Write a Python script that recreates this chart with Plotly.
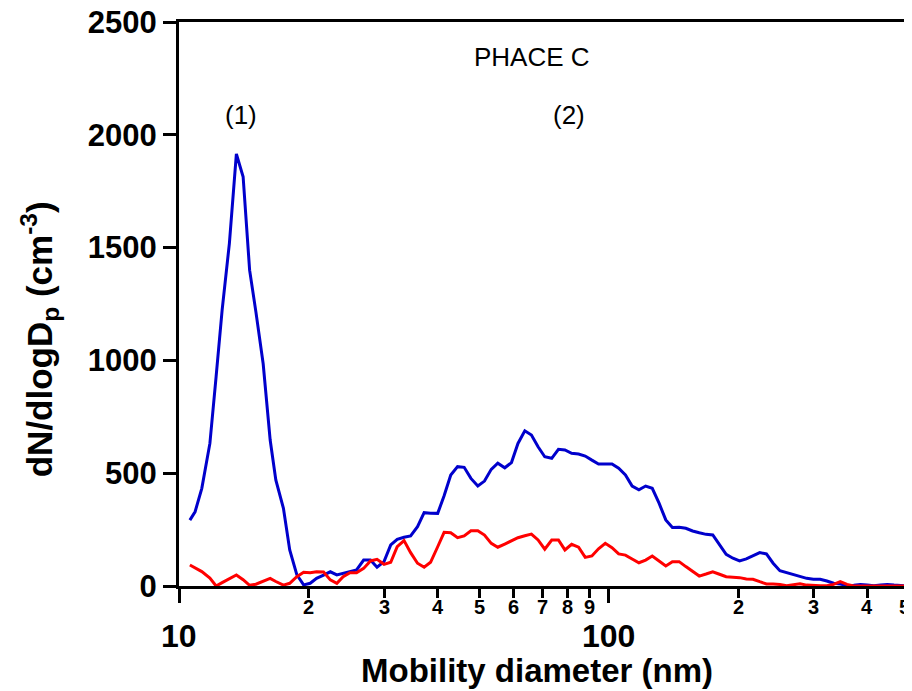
import math
import plotly.graph_objects as go

# Mobility diameter channels (nm)
diameter_nm = [10.6, 10.9, 11.3, 11.8, 12.2, 12.6, 13.1, 13.6, 14.1, 14.6, 15.1, 15.7, 16.3, 16.8,
               17.5, 18.1, 18.8, 19.5, 20.2, 20.9, 21.7, 22.5, 23.3, 24.1, 25.0, 25.9, 26.9, 27.9,
               28.9, 30.0, 31.1, 32.2, 33.4, 34.6, 35.9, 37.2, 38.5, 40.0, 41.4, 42.9, 44.5, 46.1,
               47.8, 49.6, 51.4, 53.3, 55.2, 57.3, 59.4, 61.5, 63.8, 66.1, 68.5, 71.0, 73.7, 76.4,
               79.1, 82.0, 85.1, 88.2, 91.4, 94.7, 98.2, 101.8, 105.5, 109.4, 113.4, 117.6, 121.9,
               126.3, 131.0, 135.8, 140.7, 145.9, 151.2, 156.8, 162.5, 168.5, 174.7, 181.1, 187.7,
               194.6, 201.7, 209.1, 216.7, 224.7, 232.9, 241.4, 250.3, 259.5, 269.0, 278.8, 289.0,
               299.6, 310.6, 322.0, 333.8, 346.0, 358.7, 371.8, 385.4, 399.5, 414.2, 429.4, 445.1,
               461.4, 478.3, 495.8]

blue_dndlogdp = [292, 329, 433, 632, 928, 1223, 1519, 1915, 1814, 1400,
                 1215, 985, 647, 470, 344, 160, 50, 5, 12, 34,
                 48, 63, 49, 56, 63, 71, 115, 115, 83, 108,
                 182, 207, 216, 222, 263, 325, 323, 322, 400, 492,
                 529, 526, 477, 443, 465, 517, 544, 524, 547, 632,
                 688, 669, 617, 573, 566, 606, 603, 588, 585, 576,
                 558, 541, 541, 541, 522, 492, 443, 426, 443, 433,
                 367, 293, 259, 260, 256, 244, 236, 229, 226, 182,
                 140, 123, 111, 120, 134, 148, 142, 101, 68, 59,
                 52, 43, 34, 30, 30, 22, 12, 9, 1, 3,
                 7, 4, 1, 4, 7, 4, 1, 0]

red_dndlogdp = [93, 80, 64, 35, 0, 15, 32, 49, 28, 3,
                8, 20, 34, 20, 4, 12, 41, 61, 59, 63,
                62, 27, 12, 41, 59, 59, 78, 111, 118, 96,
                105, 174, 201, 148, 101, 83, 105, 174, 238, 236,
                214, 222, 245, 245, 226, 189, 172, 186, 199, 214,
                223, 230, 204, 163, 204, 204, 160, 185, 172, 127,
                133, 165, 189, 170, 142, 137, 120, 103, 115, 133,
                111, 89, 108, 108, 86, 63, 44, 53, 63, 52,
                41, 39, 37, 31, 30, 19, 9, 9, 7, 1,
                4, 10, 4, 1, 1, 1, 7, 19, 7, 0,
                0, 0, 0, 0, 0, 0, 0, 0]

x_range_nm = [10, 500]
y_ticks = [0, 500, 1000, 1500, 2000, 2500]
major_x_ticks = [10, 100]
minor_x_ticks = [20, 30, 40, 50, 60, 70, 80, 90, 200, 300, 400, 500]
minor_x_labels = ["2", "3", "4", "5", "6", "7", "8", "9", "2", "3", "4", "5"]

boundary_nm = 19.0
phase_line_span_nm = [11.5, 449]
phase_line_level = 2247

FONT = "Liberation Sans, Arial, Helvetica, sans-serif"

fig = go.Figure()
fig.add_trace(go.Scatter(x=diameter_nm, y=blue_dndlogdp, mode="lines",
                         line=dict(color="#0000CC", width=3), showlegend=False))
fig.add_trace(go.Scatter(x=diameter_nm, y=red_dndlogdp, mode="lines",
                         line=dict(color="#FF0000", width=3), showlegend=False))

lx = [math.log10(v) for v in x_range_nm]

fig.update_xaxes(type="log", range=lx, showgrid=False, zeroline=False, automargin=False,
                 showline=True, linecolor="black", linewidth=3, mirror=True,
                 tickmode="array", tickvals=major_x_ticks, showticklabels=False,
                 ticks="outside", ticklen=14, tickwidth=3, tickcolor="black",
                 minor=dict(tickmode="array", tickvals=minor_x_ticks, ticks="outside",
                            ticklen=9, tickwidth=2.5, tickcolor="black", showgrid=False))
fig.update_yaxes(range=[0, 2500], showgrid=False, zeroline=False, automargin=False,
                 showline=True, linecolor="black", linewidth=3, mirror=True,
                 tickmode="array", tickvals=y_ticks,
                 ticks="outside", ticklen=13, tickwidth=3, tickcolor="black",
                 ticklabelstandoff=0, ticklabeloverflow="allow",
                 tickfont=dict(family=FONT, size=31, color="black", weight="bold"))

annotations = []
for i, (v, t) in enumerate(zip(minor_x_ticks, minor_x_labels)):
    last = i == len(minor_x_ticks) - 1
    annotations.append(dict(x=math.log10(v), y=-0.037, xref="x", yref="paper", text=t,
                            showarrow=False, xanchor="right" if last else "center",
                            xshift=3 if last else 0, yanchor="middle",
                            font=dict(family=FONT, size=20, color="black", weight="bold")))
for v in major_x_ticks:
    annotations.append(dict(x=math.log10(v), y=-0.089, xref="x", yref="paper", text=str(v),
                            showarrow=False, xanchor="center", yanchor="middle",
                            font=dict(family=FONT, size=32, color="black", weight="bold")))
annotations.append(dict(x=0.49, y=-0.149, xref="paper", yref="paper",
                        text="Mobility diameter (nm)", showarrow=False,
                        xanchor="center", yanchor="middle",
                        font=dict(family=FONT, size=33, color="black", weight="bold")))
annotations.append(dict(x=-0.19, y=0.438, xref="paper", yref="paper", textangle=-90,
                        text="dN/dlogD<sub>p</sub> (cm<sup>-3</sup>)", showarrow=False,
                        xanchor="center", yanchor="middle",
                        font=dict(family=FONT, size=35, color="black", weight="bold")))
annotations.append(dict(x=1.8215, y=2345, xref="x", yref="y", text="PHACE C",
                        showarrow=False, xanchor="center", yanchor="middle",
                        font=dict(family=FONT, size=26, color="black")))
annotations.append(dict(x=1.1443, y=2088, xref="x", yref="y", text="(1)",
                        showarrow=False, xanchor="center", yanchor="middle",
                        font=dict(family=FONT, size=26, color="black")))
annotations.append(dict(x=1.9076, y=2088, xref="x", yref="y", text="(2)",
                        showarrow=False, xanchor="center", yanchor="middle",
                        font=dict(family=FONT, size=26, color="black")))

shapes = [
    dict(type="line", xref="x", yref="paper", x0=math.log10(boundary_nm), x1=math.log10(boundary_nm),
         y0=0, y1=1, line=dict(color="black", width=1.2, dash="dash")),
    dict(type="line", xref="x", yref="y", x0=math.log10(phase_line_span_nm[0]),
         x1=math.log10(phase_line_span_nm[1]), y0=phase_line_level, y1=phase_line_level,
         line=dict(color="#444444", width=1.8)),
]

# The page body adds an 8 px offset; size the figure so the plot area lands where the reference has it.
fig.update_layout(width=904, height=683, margin=dict(l=171, r=3, t=14, b=105, autoexpand=False),
                  paper_bgcolor="white", plot_bgcolor="white",
                  annotations=annotations, shapes=shapes,
                  font=dict(family=FONT, color="black"))

fig.write_html("out.html")
